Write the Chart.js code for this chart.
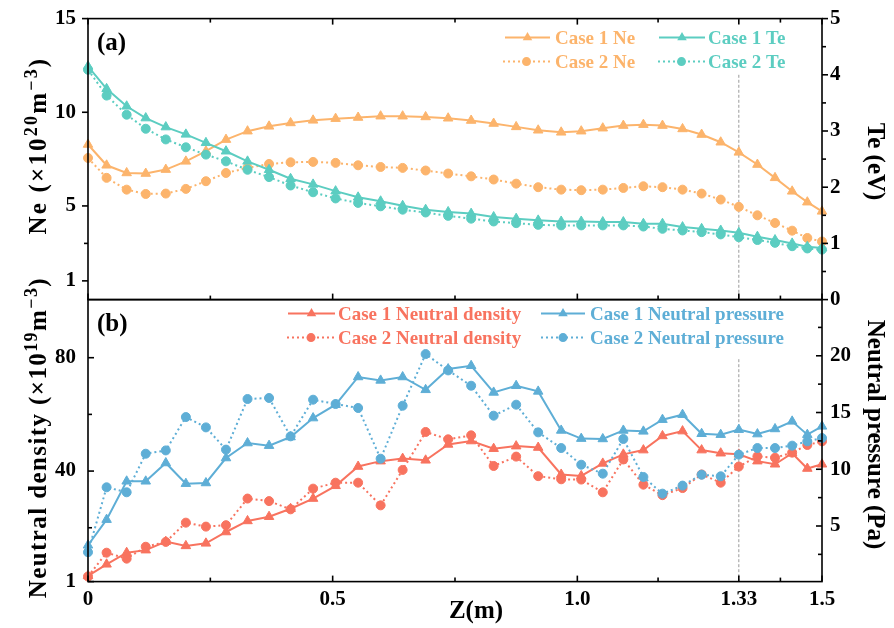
<!DOCTYPE html>
<html>
<head>
<meta charset="utf-8">
<title>Ne / Te and neutral profiles</title>
<script src="https://cdn.jsdelivr.net/npm/chart.js@4.4.0/dist/chart.umd.min.js"></script>
<style>
    body { margin: 0; background: #fff; overflow: hidden; }
    #wrap { position: relative; width: 894px; height: 628px; overflow: hidden; }
    #wrap canvas { position: absolute; left: 0; }
</style>
</head>
<body>
<div id="wrap">
    <canvas id="panelA" width="894" height="340" style="top:0;width:894px;height:340px"></canvas>
    <canvas id="panelB" width="894" height="360" style="top:284px;width:894px;height:360px"></canvas>
</div>
<script>
// grid positions along Z (m)
const zPos = [0, 0.038, 0.079, 0.118, 0.159, 0.2, 0.241, 0.282, 0.326, 0.37,
    0.414, 0.46, 0.506, 0.552, 0.598, 0.643, 0.69, 0.736, 0.783, 0.829,
    0.875, 0.92, 0.967, 1.008, 1.052, 1.094, 1.135, 1.174, 1.215, 1.254,
    1.293, 1.33, 1.368, 1.404, 1.439, 1.47, 1.5];

// (a) electron density (x10^20 m^-3) and temperature (eV)
const neCase1 = [8.28, 7.17, 6.76, 6.73, 6.94, 7.38, 7.92, 8.54, 8.99, 9.25,
    9.43, 9.57, 9.66, 9.72, 9.79, 9.79, 9.75, 9.68, 9.56, 9.4,
    9.22, 9.04, 8.93, 8.99, 9.15, 9.29, 9.34, 9.29, 9.11, 8.81,
    8.4, 7.86, 7.21, 6.5, 5.78, 5.2, 4.71];
const neCase2 = [7.56, 6.5, 5.87, 5.64, 5.66, 5.91, 6.32, 6.76, 7.03, 7.24,
    7.33, 7.35, 7.3, 7.17, 7.08, 7.03, 6.89, 6.73, 6.58, 6.41,
    6.19, 6.0, 5.87, 5.84, 5.87, 5.96, 6.05, 6.0, 5.87, 5.66,
    5.34, 4.95, 4.5, 4.09, 3.68, 3.29, 3.1];
const teCase1 = [4.15, 3.75, 3.44, 3.23, 3.07, 2.94, 2.79, 2.64, 2.46, 2.31,
    2.15, 2.05, 1.93, 1.82, 1.75, 1.67, 1.6, 1.56, 1.53, 1.47,
    1.44, 1.41, 1.39, 1.39, 1.38, 1.38, 1.35, 1.35, 1.29, 1.26,
    1.23, 1.19, 1.12, 1.06, 1.0, 0.94, 0.92];
const teCase2 = [4.09, 3.63, 3.29, 3.04, 2.85, 2.71, 2.58, 2.46, 2.31, 2.18,
    2.03, 1.91, 1.8, 1.72, 1.66, 1.6, 1.55, 1.49, 1.44, 1.39,
    1.36, 1.33, 1.32, 1.32, 1.32, 1.32, 1.3, 1.26, 1.23, 1.2,
    1.16, 1.11, 1.06, 1.01, 0.95, 0.91, 0.89];

// (b) neutral density (x10^19 m^-3) and neutral pressure (Pa)
const ndCase1 = [3.0, 7.1, 11.2, 12.1, 15.1, 13.6, 14.5, 18.5, 22.4, 23.9,
    26.7, 30.3, 34.8, 41.6, 43.5, 44.4, 43.8, 49.4, 50.6, 47.9,
    48.8, 48.3, 38.8, 38.3, 42.7, 45.9, 47.4, 52.4, 54.1, 47.4,
    46.3, 45.9, 43.5, 42.4, 46.3, 40.9, 42.4];
const ndCase2 = [2.8, 11.2, 9.1, 13.3, 15.0, 21.8, 20.4, 20.9, 30.3, 29.4,
    26.5, 33.8, 35.9, 35.9, 27.9, 40.4, 53.8, 51.2, 52.6, 41.8,
    45.1, 38.2, 37.1, 37.0, 32.5, 44.1, 35.2, 31.5, 34.0, 38.8,
    35.9, 41.6, 45.2, 44.7, 46.5, 49.2, 50.5];
const npCase1 = [3.3, 5.56, 8.94, 8.94, 10.55, 8.73, 8.79, 10.99, 12.31, 12.08,
    12.84, 14.51, 15.69, 18.13, 17.83, 18.13, 17.0, 18.83, 19.12, 16.77,
    17.36, 16.86, 13.42, 12.7, 12.67, 13.42, 13.34, 14.37, 14.81, 13.13,
    13.05, 13.49, 13.1, 13.55, 14.22, 13.05, 13.78];
const npCase2 = [2.69, 8.41, 7.97, 11.37, 11.66, 14.6, 13.69, 11.73, 16.19, 16.28,
    12.9, 16.13, 15.75, 15.4, 10.93, 15.6, 20.15, 18.71, 17.36, 14.72,
    15.69, 13.25, 11.87, 10.4, 9.61, 12.67, 9.32, 7.85, 8.56, 9.52,
    9.38, 11.29, 11.87, 11.87, 12.08, 12.46, 12.75];

// tick values
const zTicks = [0, 0.5, 1.0, 1.33, 1.5];
const zMinor = [0.25, 0.75, 1.165, 1.415];
const neTicks = [1, 5, 10, 15];
const neMinor = [3];
const teTicks = [0, 1, 2, 3, 4, 5];
const teMinor = [0.5, 1.5, 2.5, 3.5, 4.5];
const ndTicks = [1, 40, 80];
const ndMinor = [20, 60];
const npTicks = [5, 10, 15, 20];
const npMinor = [2.5, 7.5, 12.5, 17.5, 22.5];

const ORANGE = '#fcb46c';
const TEAL = '#5ccdc1';
const RED = '#f8735f';
const BLUE = '#5eaed6';
const FONT = "'Liberation Serif', 'Times New Roman', serif";

function pts(ys) {
    return ys.map((y, i) => ({ x: zPos[i], y: y }));
}

function series(label, ys, color, axis, solid, order) {
    return {
        label: label,
        data: pts(ys),
        yAxisID: axis,
        order: order,
        borderColor: color,
        backgroundColor: color,
        pointBackgroundColor: color,
        pointBorderColor: color,
        borderWidth: 2,
        borderDash: solid ? [] : [2, 3],
        pointStyle: solid ? 'triangle' : 'circle',
        pointRadius: solid ? 5.5 : 4.5,
        pointBorderWidth: 1,
        tension: 0,
        clip: false
    };
}

function axisY(pos, min, max, ticks, pad, width) {
    return {
        type: 'linear',
        position: pos,
        min: min,
        max: max,
        grid: { display: false, drawTicks: false },
        border: { display: false },
        afterBuildTicks: s => { s.ticks = ticks.map(v => ({ value: v })); },
        afterFit: s => { s.width = width; },
        ticks: {
            padding: pad,
            color: '#000',
            autoSkip: false,
            font: { family: FONT, size: 21, weight: 'bold' },
            callback: v => String(v)
        }
    };
}

function drawMark(ctx, style, x, y, r) {
    ctx.beginPath();
    if (style === 'triangle') {
        ctx.moveTo(x, y - r);
        ctx.lineTo(x + r * 0.866, y + r * 0.5);
        ctx.lineTo(x - r * 0.866, y + r * 0.5);
        ctx.closePath();
    } else {
        ctx.arc(x, y, r, 0, Math.PI * 2);
    }
    ctx.fill();
}

// rotated axis title with superscript parts
function drawTitle(ctx, parts, cx, cy, rot, spacing) {
    const big = 'bold 25px ' + FONT;
    const small = 'bold 18px ' + FONT;
    ctx.save();
    ctx.translate(cx, cy);
    ctx.rotate(rot);
    ctx.fillStyle = '#000';
    ctx.textBaseline = 'alphabetic';
    ctx.textAlign = 'left';
    ctx.letterSpacing = (spacing || 0) + 'px';
    let w = 0;
    parts.forEach(p => { ctx.font = p[1] ? small : big; w += ctx.measureText(p[0]).width; });
    let x = -w / 2;
    parts.forEach(p => {
        ctx.font = p[1] ? small : big;
        ctx.fillText(p[0], x, p[1] ? -1 : 8);
        x += ctx.measureText(p[0]).width;
    });
    ctx.restore();
}

// frame, tick marks and the dotted line at z = 1.33
const frameTicks = {
    id: 'frameTicks',
    beforeDatasetsDraw(chart, args, opts) {
        const c = opts.cut;
        const ctx = chart.ctx;
        const x = chart.scales.x.getPixelForValue(c.at);
        const ys = chart.scales[c.scale];
        ctx.save();
        ctx.strokeStyle = '#9a9a9a';
        ctx.lineWidth = 1;
        ctx.setLineDash([3, 2]);
        ctx.beginPath();
        ctx.moveTo(x, ys.getPixelForValue(c.from));
        ctx.lineTo(x, ys.getPixelForValue(c.to));
        ctx.stroke();
        ctx.restore();
    },
    afterDraw(chart, args, opts) {
        const ctx = chart.ctx;
        const a = chart.chartArea;
        ctx.save();
        ctx.strokeStyle = '#000';
        ctx.lineWidth = 1.6;
        ctx.strokeRect(a.left, a.top, a.right - a.left, a.bottom - a.top);
        opts.marks.forEach(m => {
            const sc = chart.scales[m.scale];
            const s = m.dir === 'in' ? 1 : -1;
            const draw = (v, len) => {
                const p = sc.getPixelForValue(v);
                ctx.beginPath();
                if (m.edge === 'left') { ctx.moveTo(a.left, p); ctx.lineTo(a.left + s * len, p); }
                if (m.edge === 'right') { ctx.moveTo(a.right, p); ctx.lineTo(a.right - s * len, p); }
                if (m.edge === 'top') { ctx.moveTo(p, a.top); ctx.lineTo(p, a.top + s * len); }
                if (m.edge === 'bottom') { ctx.moveTo(p, a.bottom); ctx.lineTo(p, a.bottom - s * len); }
                ctx.stroke();
            };
            m.major.forEach(v => draw(v, 6));
            m.minor.forEach(v => draw(v, 4));
        });
        ctx.restore();
    }
};

// two-column legend inside the plot, titles and panel tag (page coordinates)
const decorations = {
    id: 'decorations',
    afterDraw(chart, args, opts) {
        const ctx = chart.ctx;
        ctx.save();
        ctx.translate(0, -(opts.originY || 0));
        ctx.font = 'bold 19px ' + FONT;
        ctx.textBaseline = 'middle';
        ctx.textAlign = 'left';
        opts.legend.forEach(it => {
            const ds = chart.data.datasets[it.index];
            ctx.strokeStyle = ds.borderColor;
            ctx.fillStyle = ds.borderColor;
            ctx.lineWidth = 2;
            ctx.setLineDash(ds.borderDash);
            ctx.beginPath();
            ctx.moveTo(it.x0, it.y);
            ctx.lineTo(it.x1, it.y);
            ctx.stroke();
            ctx.setLineDash([]);
            drawMark(ctx, ds.pointStyle, (it.x0 + it.x1) / 2, it.y, ds.pointRadius);
            ctx.fillText(ds.label, it.tx, it.y + 1);
        });
        ctx.fillStyle = '#000';
        ctx.font = 'bold 25px ' + FONT;
        ctx.fillText(opts.tag.text, opts.tag.x, opts.tag.y);
        opts.titles.forEach(t => drawTitle(ctx, t.parts, t.x, t.y, t.rot, t.spacing));
        ctx.restore();
    }
};

// put the plot frame of a chart at pageTop..pageBottom on the page
function alignPlot(chart, pageTop, pageBottom) {
    const pad = chart.config.options.layout.padding;
    for (let i = 0; i < 4; i++) {
        const a = chart.chartArea;
        const extra = (a.bottom - a.top) - (pageBottom - pageTop);
        if (Math.abs(extra) < 0.5) break;
        pad.bottom += extra;
        chart.update();
    }
    const off = pageTop - chart.chartArea.top;
    chart.canvas.style.top = off + 'px';
    chart.config.options.plugins.decorations.originY = off;
    chart.update();
}

const baseOptions = {
    responsive: false,
    animation: false,
    events: []
};

const chartA = new Chart(document.getElementById('panelA'), {
    type: 'line',
    data: {
        datasets: [
            series('Case 1 Ne', neCase1, ORANGE, 'yNe', true, 1),
            series('Case 2 Ne', neCase2, ORANGE, 'yNe', false, 1),
            series('Case 1 Te', teCase1, TEAL, 'yTe', true, 0),
            series('Case 2 Te', teCase2, TEAL, 'yTe', false, 0)
        ]
    },
    options: Object.assign({}, baseOptions, {
        layout: { padding: { top: 20, bottom: 30, left: 0, right: 0 } },
        plugins: {
            legend: { display: false },
            tooltip: { enabled: false },
            frameTicks: {
                cut: { at: 1.33, scale: 'yTe', from: 4, to: 0 },
                marks: [
                    { scale: 'yNe', edge: 'left', dir: 'out', major: neTicks, minor: neMinor },
                    { scale: 'yTe', edge: 'right', dir: 'out', major: teTicks, minor: teMinor },
                    { scale: 'x', edge: 'top', dir: 'in', major: zTicks, minor: zMinor },
                    { scale: 'x', edge: 'bottom', dir: 'in', major: zTicks, minor: zMinor }
                ]
            },
            decorations: {
                originY: 0,
                legend: [
                    { index: 0, x0: 505, x1: 550, y: 38, tx: 555 },
                    { index: 1, x0: 503, x1: 550, y: 62, tx: 555 },
                    { index: 2, x0: 659, x1: 705, y: 38, tx: 708 },
                    { index: 3, x0: 658, x1: 705, y: 62, tx: 708 }
                ],
                tag: { text: '(a)', x: 97, y: 44 },
                titles: [
                    { parts: [['Ne (×10', 0], ['20', 1], ['m', 0], ['−3', 1], [')', 0]], x: 38, y: 146, rot: -Math.PI / 2, spacing: 2.2 },
                    { parts: [['Te (eV)', 0]], x: 876, y: 162, rot: Math.PI / 2 }
                ]
            }
        },
        scales: {
            x: { type: 'linear', min: 0, max: 1.5, display: false },
            yNe: axisY('left', 0, 15, neTicks, 12, 88),
            yTe: axisY('right', 0, 5, teTicks, 8, 72)
        }
    }),
    plugins: [frameTicks, decorations]
});

const chartB = new Chart(document.getElementById('panelB'), {
    type: 'line',
    data: {
        datasets: [
            series('Case 1 Neutral density', ndCase1, RED, 'yNd', true, 1),
            series('Case 2 Neutral density', ndCase2, RED, 'yNd', false, 1),
            series('Case 1 Neutral pressure', npCase1, BLUE, 'yNp', true, 0),
            series('Case 2 Neutral pressure', npCase2, BLUE, 'yNp', false, 0)
        ]
    },
    options: Object.assign({}, baseOptions, {
        layout: { padding: { top: 16, bottom: 20, left: 0, right: 0 } },
        plugins: {
            legend: { display: false },
            tooltip: { enabled: false },
            frameTicks: {
                cut: { at: 1.33, scale: 'yNp', from: 19.7, to: 0.1 },
                marks: [
                    { scale: 'yNd', edge: 'left', dir: 'in', major: ndTicks, minor: ndMinor },
                    { scale: 'yNp', edge: 'right', dir: 'in', major: npTicks, minor: npMinor },
                    { scale: 'x', edge: 'bottom', dir: 'in', major: zTicks, minor: zMinor }
                ]
            },
            decorations: {
                originY: 284,
                legend: [
                    { index: 0, x0: 288, x1: 335, y: 314, tx: 338 },
                    { index: 1, x0: 287, x1: 335, y: 338, tx: 338 },
                    { index: 2, x0: 541, x1: 585, y: 314, tx: 590 },
                    { index: 3, x0: 541, x1: 585, y: 338, tx: 590 }
                ],
                tag: { text: '(b)', x: 97, y: 325 },
                titles: [
                    { parts: [['Neutral density (×10', 0], ['19', 1], ['m', 0], ['−3', 1], [')', 0]], x: 38, y: 438, rot: -Math.PI / 2, spacing: 1.4 },
                    { parts: [['Neutral pressure (Pa)', 0]], x: 876, y: 435, rot: Math.PI / 2 },
                    { parts: [['Z(m)', 0]], x: 476, y: 610, rot: 0 }
                ]
            }
        },
        scales: {
            x: {
                type: 'linear',
                min: 0,
                max: 1.5,
                grid: { display: false, drawTicks: false },
                border: { display: false },
                afterBuildTicks: s => { s.ticks = zTicks.map(v => ({ value: v })); },
                afterFit: s => { s.height = 46; },
                ticks: {
                    padding: 5,
                    color: '#000',
                    autoSkip: false,
                    maxRotation: 0,
                    font: { family: FONT, size: 21, weight: 'bold' },
                    callback: v => (v === 1 ? '1.0' : String(v))
                }
            },
            yNd: axisY('left', 1, 100.5, ndTicks, 12, 88),
            yNp: axisY('right', 0.1, 24.95, npTicks, 8, 72)
        }
    }),
    plugins: [frameTicks, decorations]
});

alignPlot(chartA, 19, 300);
alignPlot(chartB, 300, 582);
</script>
</body>
</html>
